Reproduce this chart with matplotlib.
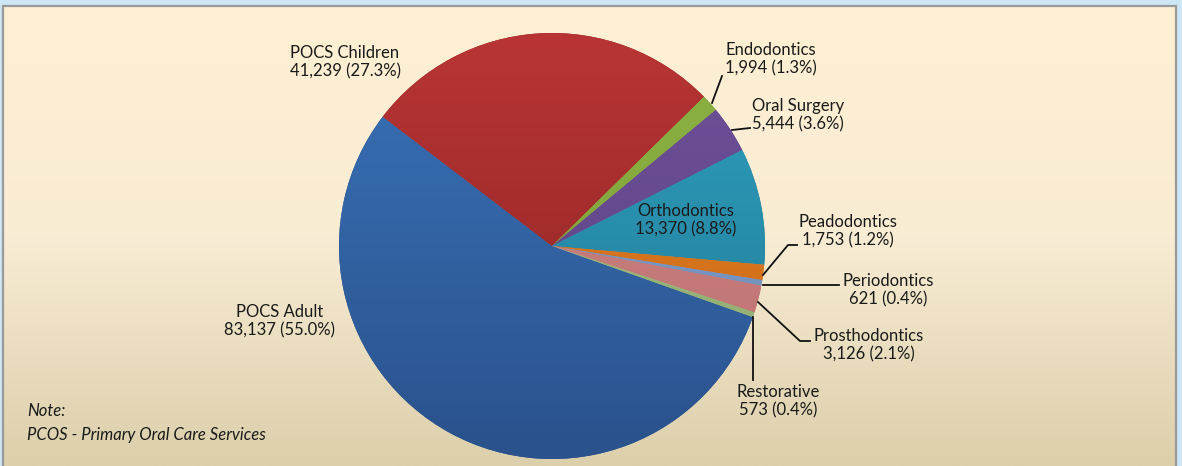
import numpy as np
import matplotlib
matplotlib.use("Agg")
import matplotlib.pyplot as plt
from matplotlib.colors import LinearSegmentedColormap
from matplotlib.patches import Rectangle

plt.rcParams['font.family'] = ['Lato', 'DejaVu Sans']

# dental service visits by category
services = ['POCS Adult', 'POCS Children', 'Endodontics', 'Oral Surgery',
            'Orthodontics', 'Peadodontics', 'Periodontics', 'Prosthodontics',
            'Restorative']
visits = [83137, 41239, 1994, 5444, 13370, 1753, 621, 3126, 573]

# light (top) and dark (bottom) shade of each slice
top_colors = ['#3A72B8', '#B93535', '#8DB243', '#6E5098', '#2FA0C2',
              '#E47D22', '#809ECB', '#D08686', '#A3C083']
bottom_colors = ['#2A528C', '#8A2222', '#7A9C36', '#5C4283', '#207890',
                 '#C96A18', '#6E8CB8', '#BC7070', '#8EAA6E']

W, H = 1182, 466
fig = plt.figure(figsize=(W / 100, H / 100), dpi=100)
fig.patch.set_facecolor('#CDE7F4')
ax = fig.add_axes([0, 0, 1, 1])
ax.set_axis_off()

# panel background with vertical gradient
panel_cmap = LinearSegmentedColormap.from_list(
    'panel', [(0, '#FEF0D2'), (0.5, '#F8ECD4'), (1, '#DCCFAB')])
grad = np.linspace(0, 1, 256).reshape(-1, 1)
ax.imshow(grad, cmap=panel_cmap, extent=(3, 1176, 0, H - 6),
          aspect='auto', zorder=0, origin='upper')
ax.add_patch(Rectangle((3, -5), 1173, H - 6 + 5, fill=False,
                       edgecolor='#9A9A9A', linewidth=1.6, zorder=1))

cx, cy, r = 552, H - 246, 213
total = sum(visits)
start = 90 - 109.5

wedges, _ = ax.pie(visits, startangle=start, counterclock=False,
                   center=(cx, cy), radius=r, frame=True,
                   colors=bottom_colors,
                   wedgeprops=dict(linewidth=0))
for w, c0, c1 in zip(wedges, top_colors, bottom_colors):
    w.set_zorder(2)
    cmap = LinearSegmentedColormap.from_list('s', [c0, c1])
    im = ax.imshow(grad, cmap=cmap, extent=(cx - r, cx + r, cy - r, cy + r),
                   aspect='auto', zorder=3, origin='upper')
    im.set_clip_path(w)

ax.set_xlim(0, W)
ax.set_ylim(0, H)
ax.set_aspect('auto')


def label_text(i):
    pct = visits[i] / total * 100
    return f"{services[i]}\n{visits[i]:,} ({pct:.1f}%)"


# label centres in pixel coords (x, y from top)
label_pos = [(280, 321), (345, 62), (771, 59), (798, 115), (686, 220),
             (848, 231), (888, 290), (869, 345), (778, 401)]
for i, (lx, ly) in enumerate(label_pos):
    ax.text(lx, H - ly, label_text(i), ha='center', va='center',
            fontsize=12, color='#1A1A1A', linespacing=1.2, zorder=5)

# leader lines
leaders = [
    [(712, 103), (722, 76)],
    [(732, 130), (750, 128)],
    [(763, 275), (788, 245), (797, 245)],
    [(763, 285), (839, 285)],
    [(758, 302), (800, 341), (810, 341)],
    [(753, 317), (753, 380)],
]
for pts in leaders:
    xs = [p[0] for p in pts]
    ys = [H - p[1] for p in pts]
    ax.plot(xs, ys, color='#111111', linewidth=1.3, zorder=4)

ax.text(27, H - 411, 'Note:', fontsize=12, style='italic',
        color='#1A1A1A', ha='left', va='center', zorder=5)
ax.text(27, H - 435, 'PCOS - Primary Oral Care Services', fontsize=12,
        style='italic', color='#1A1A1A', ha='left', va='center', zorder=5)

fig.savefig('out.png', dpi=100, facecolor=fig.get_facecolor())
